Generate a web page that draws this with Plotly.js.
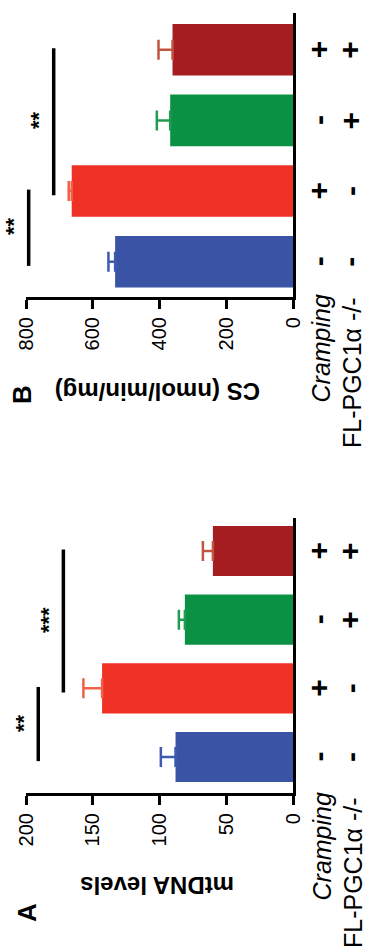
<!DOCTYPE html>
<html>
<head>
<meta charset="utf-8">
<script src="https://cdn.plot.ly/plotly-3.0.1.min.js"></script>
<style>html,body{margin:0;padding:0;background:#fff;}#chart{width:366px;height:951px;}</style>
</head>
<body>
<div id="chart"></div>
<script>
// ---- data ----
const groups = ['Control', 'Cramping', 'FL-PGC1α-/-', 'FL-PGC1α-/- + Cramping'];
const crampingSigns = ['-', '+', '-', '+'];
const flSigns = ['-', '-', '+', '+'];
const mtdnaMean = [88, 143, 81, 60];
const mtdnaSem = [11, 14, 4.5, 7.5];
const csMean = [533, 663, 368, 361];
const csSem = [20, 9, 40, 42];
const mtdnaTicks = [0, 50, 100, 150, 200];
const csTicks = [0, 200, 400, 600, 800];
const mtdnaSig = [{from: 0, to: 1, level: 190.8, label: '**'}, {from: 1, to: 3, level: 172, label: '***'}];
const csSig = [{from: 0, to: 1, level: 792, label: '**'}, {from: 1, to: 3, level: 717, label: '**'}];

// ---- styles ----
const barColors = ['#3a53a4', '#ee3124', '#0b9143', '#a51d21'];
const errColors = ['#3d5bb0', '#f0604a', '#1f9c52', '#c25541'];
const FONT = 'Liberation Sans, Arial, sans-serif';
const W = 366, H = 951;
const M = {l: 26, r: 73, t: 13, b: 158};
const PW = W - M.l - M.r, PH = H - M.t - M.b;
const px2x = p => (p - M.l) / PW;
const py2y = p => (H - M.b - p) / PH;

const traces = [];
function addPanel(means, sems, xa, ya) {
  groups.forEach((g, i) => {
    traces.push({
      type: 'bar', orientation: 'h',
      x: [means[i]], y: [g], xaxis: xa, yaxis: ya,
      width: 0.73,
      marker: {color: barColors[i], line: {width: 0}},
      error_x: {type: 'data', symmetric: false, array: [sems[i]], arrayminus: [0],
                color: errColors[i], thickness: 2.5, width: 10},
      showlegend: false, hoverinfo: 'skip'
    });
  });
}
addPanel(csMean, csSem, 'x', 'y');
addPanel(mtdnaMean, mtdnaSem, 'x2', 'y2');

const shapes = [];
const annotations = [];
function addSig(sig, xa, ya, max) {
  sig.forEach(s => {
    shapes.push({type: 'line', xref: xa, yref: ya, x0: s.level, x1: s.level,
      y0: s.from - 0.06, y1: s.to + 0.02, line: {color: '#000', width: 3.5}});
    annotations.push({xref: 'paper', yref: ya, x: (1 - s.level / max) - 15 / PW,
      y: (s.from + s.to) / 2, xanchor: 'center', yanchor: 'middle', borderpad: 0,
      text: '<b>' + s.label + '</b>', showarrow: false, textangle: -90,
      font: {family: FONT, size: 22, color: '#000'}});
  });
}
addSig(csSig, 'x', 'y', 800);
addSig(mtdnaSig, 'x2', 'y2', 200);

function addSigns(ya) {
  groups.forEach((g, i) => {
    [[crampingSigns[i], 318.5], [flSigns[i], 350]].forEach(([t, p]) => {
      annotations.push({xref: 'paper', yref: ya, x: px2x(p), y: g, xanchor: 'center', yanchor: 'middle',
        text: '<b>' + t + '</b>', showarrow: false, textangle: -90,
        font: {family: FONT, size: 30, color: '#000'}});
    });
  });
}
addSigns('y');
addSigns('y2');

function txt(text, pxX, pxY, size, angle, bold, italic) {
  annotations.push({xref: 'paper', yref: 'paper', x: px2x(pxX), y: py2y(pxY),
    xanchor: 'center', yanchor: 'middle', text: text, showarrow: false, textangle: angle,
    font: {family: FONT, size: size, color: '#000', weight: bold ? 'bold' : 'normal',
           style: italic ? 'italic' : 'normal'}});
}
// panel B labels
txt('B', 22, 395, 26, -90, true);
txt('CS (nmol/min/mg)', 158, 392, 24, 180, true);
txt('Cramping', 320.5, 349, 25, -90, false, true);
txt('FL-PGC1α -/-', 352, 373, 25, -90, false);
// panel A labels
txt('A', 27, 913, 26, -90, true);
txt('mtDNA levels', 157.5, 886, 24, 180, true);
txt('Cramping', 321.5, 847, 25, -90, false, true);
txt('FL-PGC1α -/-', 353, 873, 25, -90, false);

function valueAxis(max, ticks, anchor) {
  return {range: [max, 0], domain: [0, 1], anchor: anchor, showgrid: false, zeroline: false,
    showline: true, linewidth: 3, linecolor: '#000', ticks: 'outside', ticklen: 9, tickwidth: 3,
    tickcolor: '#000', tickvals: ticks, ticktext: ticks.map(String), tickangle: -90,
    tickfont: {family: FONT, size: 20, color: '#000'}, fixedrange: true};
}
function catAxis(anchor, domain, range) {
  return {type: 'category', categoryorder: 'array', categoryarray: groups, range: range,
    domain: domain, anchor: anchor, side: 'right', showline: true, linewidth: 3, linecolor: '#000',
    showgrid: false, zeroline: false, ticks: '', showticklabels: false, fixedrange: true};
}

const layout = {
  width: W, height: H, margin: M, paper_bgcolor: '#fff', plot_bgcolor: '#fff',
  barmode: 'overlay', showlegend: false,
  font: {family: FONT, color: '#000'},
  xaxis: valueAxis(800, csTicks, 'y'),
  yaxis: catAxis('x', [py2y(297), 1], [-0.5, 3.52]),
  xaxis2: valueAxis(200, mtdnaTicks, 'y2'),
  yaxis2: catAxis('x2', [0, py2y(518)], [-0.524, 3.48]),
  shapes: shapes, annotations: annotations
};
Plotly.newPlot('chart', traces, layout, {displayModeBar: false, staticPlot: true});
</script>
</body>
</html>
